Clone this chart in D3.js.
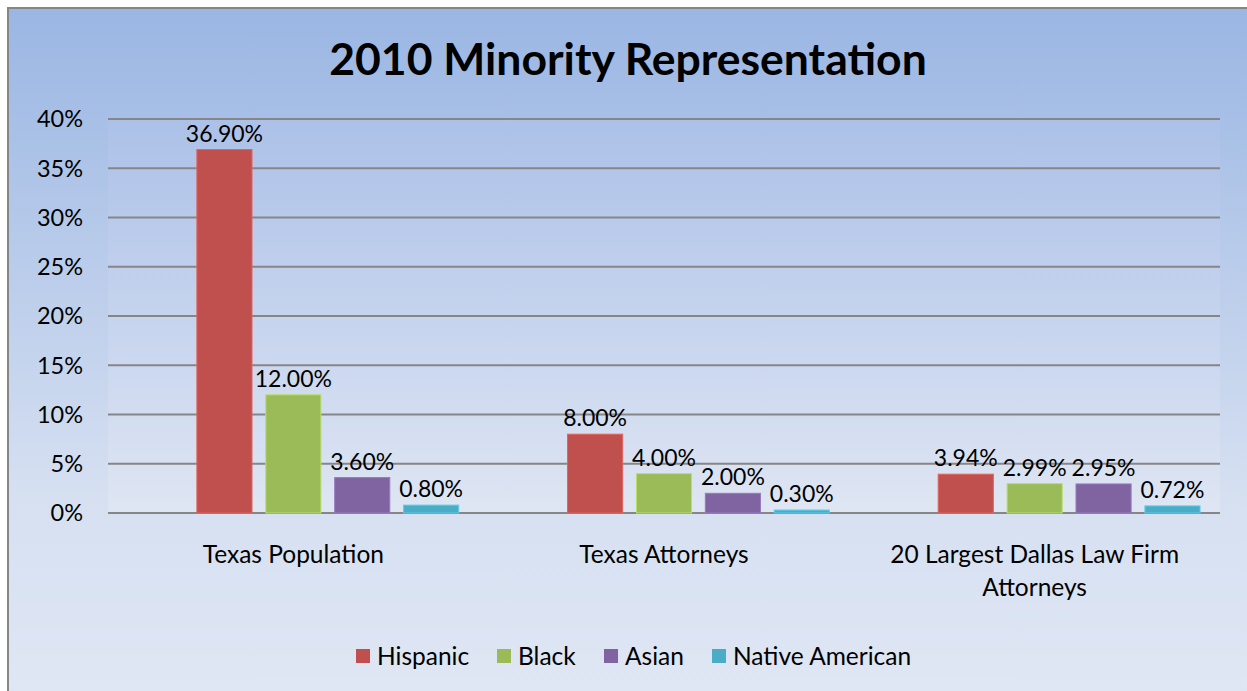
<!DOCTYPE html>
<html>
<head>
<meta charset="utf-8">
<script src="https://cdn.jsdelivr.net/npm/d3@7"></script>
<style>
  body { margin: 0; background: #fff; }
  svg text { font-family: Lato, "Open Sans", sans-serif; fill: #000; }
</style>
</head>
<body>
<svg id="chart" width="1247" height="691"></svg>
<script>
// data
var categories = ["Texas Population", "Texas Attorneys", "20 Largest Dallas Law Firm Attorneys"];
var series = ["Hispanic", "Black", "Asian", "Native American"];
var hispanic = [36.9, 8.0, 3.94];
var black = [12.0, 4.0, 2.99];
var asian = [3.6, 2.0, 2.95];
var nativeAm = [0.8, 0.3, 0.72];
var yTicks = [0, 5, 10, 15, 20, 25, 30, 35, 40];
var colors = ["#C0504D", "#9BBB59", "#8064A2", "#4BACC6"];

var values = [hispanic, black, asian, nativeAm];

var svg = d3.select("#chart");

// backgrounds
var defs = svg.append("defs");
var g1 = defs.append("linearGradient").attr("id", "bgGrad").attr("x1", 0).attr("y1", 0).attr("x2", 0).attr("y2", 1);
g1.append("stop").attr("offset", "0%").attr("stop-color", "#9AB6E3");
g1.append("stop").attr("offset", "70%").attr("stop-color", "#D6E0F1");
g1.append("stop").attr("offset", "100%").attr("stop-color", "#E0E7F4");
var g2 = defs.append("linearGradient").attr("id", "plotGrad").attr("x1", 0).attr("y1", 0).attr("x2", 0).attr("y2", 1);
g2.append("stop").attr("offset", "0%").attr("stop-color", "#ACC1E8");
g2.append("stop").attr("offset", "100%").attr("stop-color", "#DFE6F3");

svg.append("rect")
  .attr("x", 8).attr("y", 8).attr("width", 1260).attr("height", 700)
  .attr("fill", "url(#bgGrad)")
  .attr("stroke", "#868686").attr("stroke-width", 2);

var margin = {top: 119, left: 108, right: 27, bottom: 178};
var width = 1247 - margin.left - margin.right,
    height = 691 - margin.top - margin.bottom;

var g = svg.append("g").attr("transform", "translate(" + margin.left + "," + margin.top + ")");

g.append("rect").attr("width", width).attr("height", height + 1).attr("fill", "url(#plotGrad)");

var x = d3.scaleBand().domain(categories).range([0, width]);
// first slot left empty, like the source chart
var xs = d3.scaleBand().domain([""].concat(series)).range([0, x.bandwidth()])
  .paddingInner(0.2).paddingOuter(0.29);
var y = d3.scaleLinear().domain([0, 40]).range([height, 0]);

// gridlines
g.append("g")
  .selectAll("line")
  .data(yTicks)
  .enter().append("line")
  .attr("x1", 0).attr("x2", width)
  .attr("y1", function(d) { return y(d); })
  .attr("y2", function(d) { return y(d); })
  .attr("stroke", "#868686").attr("stroke-width", 2);

// y axis labels
g.append("g")
  .selectAll("text")
  .data(yTicks)
  .enter().append("text")
  .attr("x", -25)
  .attr("y", function(d) { return y(d); })
  .attr("dy", "0.36em")
  .attr("text-anchor", "end")
  .style("font-size", "23.5px")
  .text(function(d) { return d + "%"; });

// bars
var groups = g.selectAll(".grp")
  .data(categories)
  .enter().append("g")
  .attr("class", "grp")
  .attr("transform", function(d) { return "translate(" + x(d) + ",0)"; });

series.forEach(function(s, si) {
  groups.append("rect")
    .attr("x", xs(s))
    .attr("y", function(d, i) { return y(values[si][i]); })
    .attr("width", xs.bandwidth())
    .attr("height", function(d, i) { return height - y(values[si][i]); })
    .attr("fill", colors[si])
    .attr("stroke", d3.color(colors[si]).brighter(0.5))
    .attr("stroke-width", 1);

  groups.append("text")
    .attr("x", xs(s) + xs.bandwidth() / 2)
    .attr("y", function(d, i) { return y(values[si][i]) - 8; })
    .attr("text-anchor", "middle")
    .style("font-size", "23px")
    .text(function(d, i) { return values[si][i].toFixed(2) + "%"; });
});

// category labels (wrapped)
var catLines = [["Texas Population"], ["Texas Attorneys"], ["20 Largest Dallas Law Firm", "Attorneys"]];
categories.forEach(function(c, i) {
  var t = g.append("text")
    .attr("x", x(c) + x.bandwidth() / 2)
    .attr("y", height + 50)
    .attr("text-anchor", "middle")
    .style("font-size", "24.5px");
  catLines[i].forEach(function(l, j) {
    t.append("tspan").attr("x", x(c) + x.bandwidth() / 2).attr("dy", j === 0 ? 0 : 33).text(l);
  });
});

// title
svg.append("text")
  .attr("x", 628).attr("y", 75)
  .attr("text-anchor", "middle")
  .style("font-size", "44.5px").style("font-weight", "bold")
  .text("2010 Minority Representation");

// legend
var legendX = [356, 497, 604, 712];
var legend = svg.append("g").selectAll("g")
  .data(series)
  .enter().append("g")
  .attr("transform", function(d, i) { return "translate(" + legendX[i] + ",649)"; });
legend.append("rect").attr("width", 14).attr("height", 14)
  .attr("fill", function(d, i) { return colors[i]; });
legend.append("text").attr("x", 21).attr("y", 7).attr("dy", "0.36em")
  .style("font-size", "24.5px")
  .text(function(d) { return d; });
</script>
</body>
</html>
